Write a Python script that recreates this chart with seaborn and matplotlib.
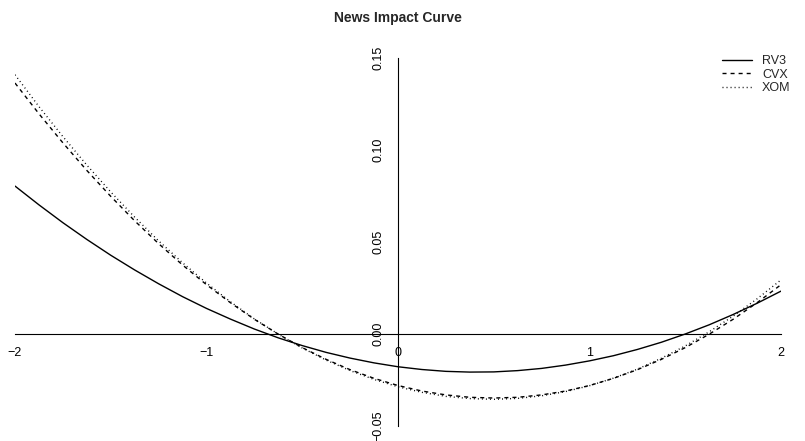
import matplotlib
matplotlib.use("Agg")
import matplotlib.pyplot as plt
import seaborn as sns
import pandas as pd

# Standardised shock grid and news impact values per model
shock = [-2.0, -1.875, -1.75, -1.625, -1.5, -1.375, -1.25, -1.125,
         -1.0, -0.875, -0.75, -0.625, -0.5, -0.375, -0.25, -0.125,
         0.0, 0.125, 0.25, 0.375, 0.5, 0.625, 0.75, 0.875,
         1.0, 1.125, 1.25, 1.375, 1.5, 1.625, 1.75, 1.875, 2.0]
rv3 = [0.0804, 0.0702, 0.0605, 0.0514, 0.0428, 0.0348, 0.0273, 0.0203,
       0.0139, 0.0081, 0.0027, -0.0021, -0.0063, -0.0100, -0.0131, -0.0157,
       -0.0178, -0.0193, -0.0203, -0.0207, -0.0206, -0.0199, -0.0187, -0.0169,
       -0.0146, -0.0118, -0.0084, -0.0045, 0.0000, 0.0050, 0.0106, 0.0167, 0.0233]
cvx = [0.1364, 0.1197, 0.1039, 0.0889, 0.0748, 0.0615, 0.0491, 0.0375,
       0.0268, 0.0170, 0.0080, -0.0001, -0.0074, -0.0138, -0.0194, -0.0241,
       -0.0280, -0.0310, -0.0331, -0.0344, -0.0348, -0.0344, -0.0331, -0.0310,
       -0.0280, -0.0241, -0.0194, -0.0138, -0.0074, -0.0001, 0.0080, 0.0170, 0.0268]
xom = [0.1409, 0.1236, 0.1073, 0.0918, 0.0772, 0.0635, 0.0506, 0.0387,
       0.0277, 0.0175, 0.0082, -0.0001, -0.0076, -0.0142, -0.0199, -0.0247,
       -0.0287, -0.0317, -0.0339, -0.0351, -0.0355, -0.0350, -0.0336, -0.0313,
       -0.0281, -0.0240, -0.0191, -0.0132, -0.0065, 0.0012, 0.0097, 0.0191, 0.0294]
series_names = ["RV3", "CVX", "XOM"]
x_ticks = [-2, -1, 0, 1, 2]
x_tick_labels = ["\u22122", "\u22121", "0", "1", "2"]
y_ticks = [-0.05, 0.00, 0.05, 0.10, 0.15]
y_tick_labels = ["\u22120.05", "0.00", "0.05", "0.10", "0.15"]

df = pd.DataFrame({
    "shock": shock * 3,
    "impact": rv3 + cvx + xom,
    "series": [n for n in series_names for _ in shock],
})

sns.set_style("white")
plt.rcParams["font.family"] = ["Liberation Sans", "DejaVu Sans"]

W, H = 805, 441
fig = plt.figure(figsize=(W / 100, H / 100), dpi=100)
ax = fig.add_axes([15 / W, (H - 426) / H, 766 / W, 368 / H])

lw = 0.8
curve_lw = 1.0
dash_styles = {"RV3": "", "CVX": (2.9, 2.9), "XOM": (0.7, 2.2)}
sns.lineplot(data=df, x="shock", y="impact", style="series",
             style_order=series_names, dashes=dash_styles,
             color="black", linewidth=curve_lw, ax=ax, legend=True)

ax.set_xlim(-2, 2)
ax.set_ylim(-0.05, 0.15)
ax.set_xlabel("")
ax.set_ylabel("")

# Axes crossing at the origin
for side in ["top", "right"]:
    ax.spines[side].set_visible(False)
ax.spines["bottom"].set_position(("data", 0))
ax.spines["left"].set_position(("data", 0))
for side in ["bottom", "left"]:
    ax.spines[side].set_color("black")
    ax.spines[side].set_linewidth(lw)

ax.set_xticks(x_ticks)
ax.set_xticklabels(x_tick_labels)
ax.set_yticks(y_ticks)
ax.set_yticklabels(y_tick_labels, rotation=90, va="center")
ax.tick_params(axis="both", direction="out", length=5.5, width=lw,
               color="black", labelsize=9, labelcolor="black")
ax.tick_params(axis="x", pad=4)
ax.tick_params(axis="y", pad=4)
ax.grid(False)

handles, labels = ax.get_legend_handles_labels()
ax.legend(handles, labels, frameon=False, fontsize=9,
          loc="upper left", bbox_to_anchor=(722 / W, 1 - 55 / H),
          bbox_transform=fig.transFigure, handlelength=2.4,
          handletextpad=0.8, labelspacing=0.12, borderaxespad=0,
          borderpad=0)

fig.text(398 / W, 1 - 18 / H, "News Impact Curve", ha="center", va="center",
         fontsize=10, fontweight="bold")

fig.savefig("out.png", dpi=100)
